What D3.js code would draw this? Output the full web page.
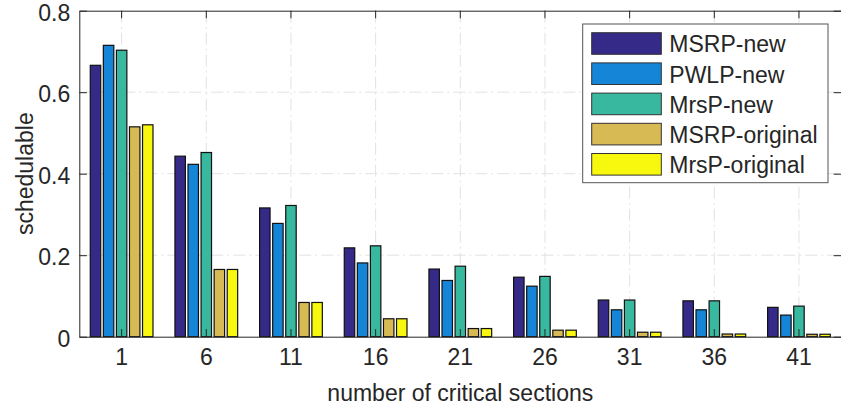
<!DOCTYPE html>
<html>
<head>
<meta charset="utf-8">
<script src="https://cdn.jsdelivr.net/npm/d3@7"></script>
<style>
  html, body { margin: 0; padding: 0; background: #fff; }
  svg text { font-family: "Liberation Sans", Arial, Helvetica, sans-serif; fill: #262626; }
</style>
</head>
<body>
<svg id="chart"></svg>
<script>
// data
const categories = ["1", "6", "11", "16", "21", "26", "31", "36", "41"];
const seriesNames = ["MSRP-new", "PWLP-new", "MrsP-new", "MSRP-original", "MrsP-original"];
const msrpNew      = [0.666, 0.443, 0.316, 0.218, 0.166, 0.146, 0.090, 0.088, 0.072];
const pwlpNew      = [0.715, 0.423, 0.278, 0.181, 0.138, 0.124, 0.066, 0.066, 0.053];
const mrspNew      = [0.703, 0.452, 0.322, 0.223, 0.173, 0.148, 0.090, 0.088, 0.075];
const msrpOriginal = [0.515, 0.165, 0.084, 0.044, 0.020, 0.016, 0.011, 0.0066, 0.006];
const mrspOriginal = [0.520, 0.165, 0.084, 0.044, 0.020, 0.016, 0.011, 0.0066, 0.006];
const yTicks = [0, 0.2, 0.4, 0.6, 0.8];

const seriesValues = [msrpNew, pwlpNew, mrspNew, msrpOriginal, mrspOriginal];
const colors = ["#352a87", "#1585d8", "#38b89e", "#d8ba55", "#f8f80f"];

const W = 841, H = 410;
const margin = { top: 10.7, right: 0, bottom: 73.3, left: 79.3 };
const width = 762;
const height = H - margin.top - margin.bottom;

const svg = d3.select("#chart").attr("width", W).attr("height", H);
const g = svg.append("g").attr("transform", `translate(${margin.left},${margin.top})`);

// scales
const x0 = d3.scaleBand().domain(categories).range([0, width]).padding(0);
const x1 = d3.scaleBand().domain(seriesNames).range([0, x0.bandwidth()])
  .paddingInner(0.2).paddingOuter(0.84);
const y = d3.scaleLinear().domain([0, 0.8]).range([height, 0]);

const gridColor = "#e2e2e2";
const axisColor = "#262626";
const tickLen = 7.6;

// grid lines (dash-dot)
g.append("g").selectAll("line").data(yTicks.filter(t => t > 0 && t < 0.8)).join("line")
  .attr("x1", 0).attr("x2", width)
  .attr("y1", d => y(d)).attr("y2", d => y(d))
  .attr("stroke", gridColor).attr("stroke-width", 1)
  .attr("stroke-dasharray", "12,4,2,4");

g.append("g").selectAll("line").data(categories).join("line")
  .attr("x1", d => x0(d) + x0.bandwidth() / 2).attr("x2", d => x0(d) + x0.bandwidth() / 2)
  .attr("y1", 0).attr("y2", height)
  .attr("stroke", gridColor).attr("stroke-width", 1)
  .attr("stroke-dasharray", "12,4,2,4");

// bars
const groups = g.append("g").selectAll("g").data(categories).join("g")
  .attr("transform", d => `translate(${x0(d)},0)`);

groups.selectAll("rect")
  .data((c, i) => seriesNames.map((s, k) => ({ s, k, v: seriesValues[k][i] })))
  .join("rect")
  .attr("x", d => x1(d.s))
  .attr("width", x1.bandwidth())
  .attr("y", d => y(d.v))
  .attr("height", d => y(0) - y(d.v))
  .attr("fill", d => colors[d.k])
  .attr("stroke", "#111")
  .attr("stroke-width", 1.2);

// axes box with inward ticks
const xAxisBottom = d3.axisBottom(x0).tickSizeInner(-tickLen).tickSizeOuter(0).tickPadding(12);
const xAxisTop = d3.axisTop(x0).tickSizeInner(-tickLen).tickSizeOuter(0).tickFormat("");
const yAxisLeft = d3.axisLeft(y).tickValues(yTicks).tickFormat(d => d === 0 ? "0" : d3.format(".1f")(d))
  .tickSizeInner(-tickLen).tickSizeOuter(0).tickPadding(9);
const yAxisRight = d3.axisRight(y).tickValues(yTicks).tickSizeInner(-tickLen).tickSizeOuter(0).tickFormat("");

function styleAxis(sel) {
  sel.selectAll("path").attr("stroke", axisColor).attr("stroke-width", 1);
  sel.selectAll("line").attr("stroke", axisColor).attr("stroke-width", 1);
  sel.selectAll("text").attr("font-size", 23).attr("fill", axisColor)
    .style("font-family", "'Liberation Sans', Arial, sans-serif");
}

g.append("g").attr("transform", `translate(0,${height})`).call(xAxisBottom).call(styleAxis)
  .selectAll("text").attr("dy", "0.71em");
g.append("g").call(xAxisTop).call(styleAxis);
g.append("g").call(yAxisLeft).call(styleAxis)
  .selectAll("text").attr("dy", "0.42em");
g.append("g").attr("transform", `translate(${width},0)`).call(yAxisRight).call(styleAxis);

// axis titles
g.append("text")
  .attr("text-anchor", "middle")
  .attr("x", width / 2)
  .attr("y", height + 64.5)
  .attr("font-size", 23)
  .text("number of critical sections");

g.append("text")
  .attr("text-anchor", "middle")
  .attr("transform", `translate(${-46.5},${height / 2}) rotate(-90)`)
  .attr("font-size", 23)
  .text("schedulable");

// legend
const legend = svg.append("g").attr("transform", "translate(582.7,24)");
legend.append("rect")
  .attr("width", 245.3).attr("height", 158.7)
  .attr("fill", "#fff").attr("stroke", "#555").attr("stroke-width", 1);

const items = legend.selectAll("g.item").data(seriesNames).join("g")
  .attr("class", "item")
  .attr("transform", (d, i) => `translate(9,${8.7 + i * 30.2})`);

items.append("rect")
  .attr("width", 69.6).attr("height", 21.6)
  .attr("fill", (d, i) => colors[i])
  .attr("stroke", "#333").attr("stroke-width", 1);

items.append("text")
  .attr("x", 77.6)
  .attr("y", 19.6)
  .attr("font-size", 23)
  .attr("fill", "#000")
  .text(d => d);
</script>
</body>
</html>
